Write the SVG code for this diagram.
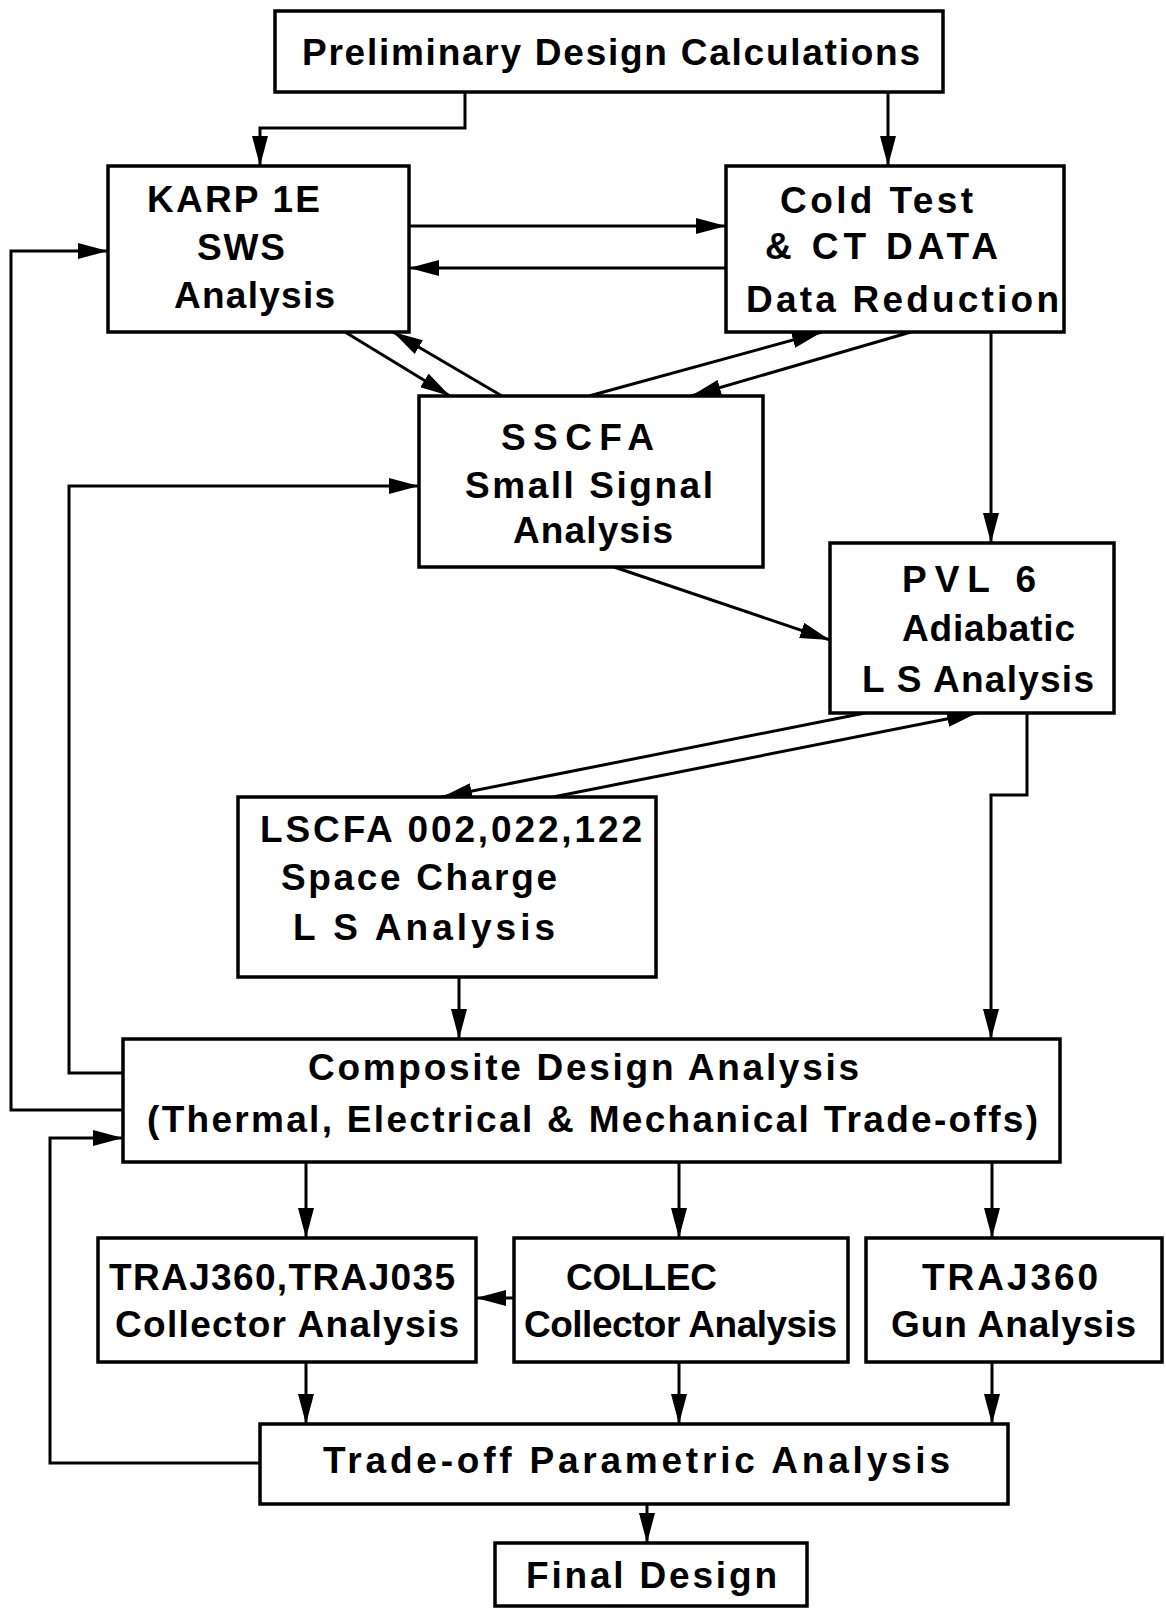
<svg xmlns="http://www.w3.org/2000/svg" width="1166" height="1608" viewBox="0 0 1166 1608">
<style>
.box{fill:#fff;stroke:#000;stroke-width:3.5}
.t{font-family:"Liberation Sans",Arial,sans-serif;font-weight:bold;font-size:37px;fill:#000}
.c{fill:none;stroke:#000;stroke-width:3}
</style>
<defs>
<marker id="ah" viewBox="0 0 30 16" refX="30" refY="8" markerWidth="30" markerHeight="16" markerUnits="userSpaceOnUse" orient="auto">
<path d="M0,0 L30,8 L0,16 z" fill="#000"/>
</marker>
</defs>
<rect width="1166" height="1608" fill="#fff"/>
<g id="connectors">
<path class="c" d="M465,92 V128 H260 V166" marker-end="url(#ah)"/>
<path class="c" d="M888,92 V166" marker-end="url(#ah)"/>
<path class="c" d="M409,226 H726" marker-end="url(#ah)"/>
<path class="c" d="M726,268 H409" marker-end="url(#ah)"/>
<path class="c" d="M123,1110 H11 V251 H108" marker-end="url(#ah)"/>
<path class="c" d="M123,1073 H69 V486 H419" marker-end="url(#ah)"/>
<path class="c" d="M345,332 L450,396" marker-end="url(#ah)"/>
<path class="c" d="M502,396 L393,332" marker-end="url(#ah)"/>
<path class="c" d="M589,396 L822,332" marker-end="url(#ah)"/>
<path class="c" d="M911,332 L691,396" marker-end="url(#ah)"/>
<path class="c" d="M991,332 V543" marker-end="url(#ah)"/>
<path class="c" d="M614,567 L830,640" marker-end="url(#ah)"/>
<path class="c" d="M865,713 L442,797" marker-end="url(#ah)"/>
<path class="c" d="M553,797 L977,713" marker-end="url(#ah)"/>
<path class="c" d="M1027,713 V795 H991 V1039" marker-end="url(#ah)"/>
<path class="c" d="M459,977 V1039" marker-end="url(#ah)"/>
<path class="c" d="M306,1162 V1238" marker-end="url(#ah)"/>
<path class="c" d="M679,1162 V1238" marker-end="url(#ah)"/>
<path class="c" d="M992,1162 V1238" marker-end="url(#ah)"/>
<path class="c" d="M514,1298 H476" marker-end="url(#ah)"/>
<path class="c" d="M306,1362 V1424" marker-end="url(#ah)"/>
<path class="c" d="M679,1362 V1424" marker-end="url(#ah)"/>
<path class="c" d="M992,1362 V1424" marker-end="url(#ah)"/>
<path class="c" d="M260,1463 H50 V1138 H123" marker-end="url(#ah)"/>
<path class="c" d="M647,1504 V1543" marker-end="url(#ah)"/>
</g>
<g id="prelim">
<rect class="box" x="275" y="11" width="668" height="81"/>
<text class="t" x="302" y="65" textLength="618" lengthAdjust="spacing">Preliminary Design Calculations</text>
</g>
<g id="karp">
<rect class="box" x="108" y="166" width="301" height="166"/>
<text class="t" x="147" y="212" textLength="173" lengthAdjust="spacing">KARP 1E</text>
<text class="t" x="197" y="260" textLength="88" lengthAdjust="spacing">SWS</text>
<text class="t" x="174" y="308" textLength="161" lengthAdjust="spacing">Analysis</text>
</g>
<g id="cold">
<rect class="box" x="726" y="166" width="338" height="166"/>
<text class="t" x="780" y="213" textLength="193" lengthAdjust="spacing">Cold Test</text>
<text class="t" x="765" y="259" textLength="233" lengthAdjust="spacing">&amp; CT DATA</text>
<text class="t" x="746" y="312" textLength="313" lengthAdjust="spacing">Data Reduction</text>
</g>
<g id="sscfa">
<rect class="box" x="419" y="396" width="344" height="171"/>
<text class="t" x="501" y="450" textLength="153" lengthAdjust="spacing">SSCFA</text>
<text class="t" x="465" y="498" textLength="248" lengthAdjust="spacing">Small Signal</text>
<text class="t" x="513" y="543" textLength="160" lengthAdjust="spacing">Analysis</text>
</g>
<g id="pvl">
<rect class="box" x="830" y="543" width="284" height="170"/>
<text class="t" x="902" y="592" textLength="134" lengthAdjust="spacing">PVL 6</text>
<text class="t" x="902" y="641" textLength="173" lengthAdjust="spacing">Adiabatic</text>
<text class="t" x="862" y="692" textLength="232" lengthAdjust="spacing">L S Analysis</text>
</g>
<g id="lscfa">
<rect class="box" x="238" y="797" width="418" height="180"/>
<text class="t" x="260" y="842" textLength="382" lengthAdjust="spacing">LSCFA 002,022,122</text>
<text class="t" x="281" y="890" textLength="276" lengthAdjust="spacing">Space Charge</text>
<text class="t" x="293" y="940" textLength="262" lengthAdjust="spacing">L S Analysis</text>
</g>
<g id="composite">
<rect class="box" x="123" y="1039" width="937" height="123"/>
<text class="t" x="308" y="1080" textLength="551" lengthAdjust="spacing">Composite Design Analysis</text>
<text class="t" x="147" y="1132" textLength="891" lengthAdjust="spacing">(Thermal, Electrical &amp; Mechanical Trade-offs)</text>
</g>
<g id="traj">
<rect class="box" x="98" y="1238" width="378" height="124"/>
<text class="t" x="109" y="1290" textLength="346" lengthAdjust="spacing">TRAJ360,TRAJ035</text>
<text class="t" x="115" y="1337" textLength="344" lengthAdjust="spacing">Collector Analysis</text>
</g>
<g id="collec">
<rect class="box" x="514" y="1238" width="334" height="124"/>
<text class="t" x="566" y="1290" textLength="151" lengthAdjust="spacing">COLLEC</text>
<text class="t" x="524" y="1337" textLength="313" lengthAdjust="spacing">Collector Analysis</text>
</g>
<g id="gun">
<rect class="box" x="866" y="1238" width="296" height="124"/>
<text class="t" x="922" y="1290" textLength="176" lengthAdjust="spacing">TRAJ360</text>
<text class="t" x="891" y="1337" textLength="245" lengthAdjust="spacing">Gun Analysis</text>
</g>
<g id="tradeoff">
<rect class="box" x="260" y="1424" width="748" height="80"/>
<text class="t" x="323" y="1473" textLength="627" lengthAdjust="spacing">Trade-off Parametric Analysis</text>
</g>
<g id="final">
<rect class="box" x="495" y="1543" width="312" height="63"/>
<text class="t" x="526" y="1588" textLength="251" lengthAdjust="spacing">Final Design</text>
</g>
</svg>
